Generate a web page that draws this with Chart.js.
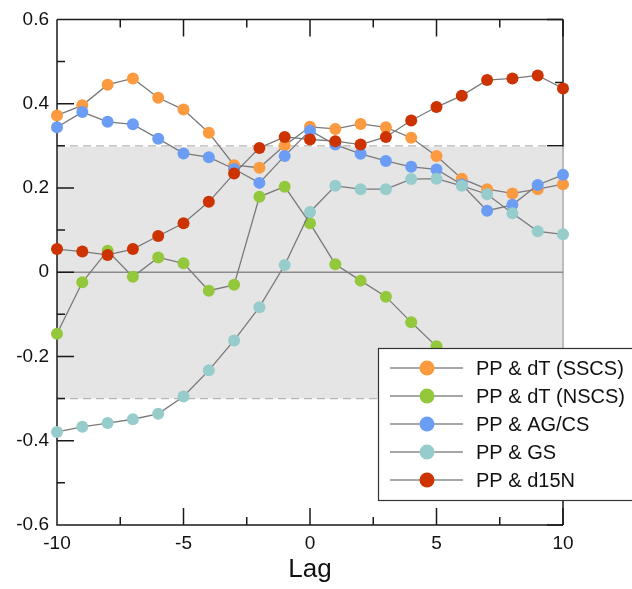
<!DOCTYPE html>
<html>
<head>
<meta charset="utf-8">
<script src="https://cdn.jsdelivr.net/npm/chart.js@4/dist/chart.umd.min.js"></script>
<style>
  html, body { margin: 0; padding: 0; background: #fff; }
  #wrap { width: 632px; height: 589px; position: relative; }
</style>
</head>
<body>
<div id="wrap"><canvas id="lagChart" width="632" height="589"></canvas></div>
<script>
// Lag values (x axis)
const lags = [-10, -9, -8, -7, -6, -5, -4, -3, -2, -1, 0, 1, 2, 3, 4, 5, 6, 7, 8, 9, 10];

// Correlation values
const ppDtSSCS = [0.372, 0.396, 0.445, 0.460, 0.414, 0.386, 0.331, 0.254, 0.248, 0.301, 0.345,
                  0.340, 0.352, 0.344, 0.319, 0.276, 0.222, 0.197, 0.187, 0.197, 0.209];
const ppDtNSCS = [-0.146, -0.024, 0.051, -0.011, 0.035, 0.021, -0.044, -0.030, 0.179, 0.203, 0.116,
                  0.019, -0.020, -0.058, -0.119, -0.176, null, null, null, null, null]; // hidden by legend
const ppAgCs   = [0.344, 0.380, 0.357, 0.351, 0.317, 0.282, 0.273, 0.245, 0.212, 0.276, 0.336,
                  0.303, 0.281, 0.264, 0.250, 0.244, 0.208, 0.146, 0.160, 0.207, 0.231];
const ppGs     = [-0.379, -0.367, -0.358, -0.349, -0.336, -0.295, -0.233, -0.162, -0.083, 0.017, 0.143,
                  0.205, 0.197, 0.197, 0.221, 0.222, 0.205, 0.185, 0.140, 0.097, 0.090];
const ppD15N   = [0.055, 0.049, 0.041, 0.055, 0.086, 0.116, 0.167, 0.234, 0.295, 0.321, 0.315,
                  0.311, 0.303, 0.321, 0.360, 0.392, 0.419, 0.456, 0.460, 0.467, 0.436];

const seriesNames = ['PP & dT (SSCS)', 'PP & dT (NSCS)', 'PP & AG/CS', 'PP & GS', 'PP & d15N'];
const seriesColors = ['#fb9a3f', '#93c83c', '#6b9df5', '#96cccc', '#cc3300'];
const seriesValues = [ppDtSSCS, ppDtNSCS, ppAgCs, ppGs, ppD15N];

// Tick positions
const xLabelTicks = [-10, -5, 0, 5, 10];
const xMinorTicks = [-7.5, -2.5, 2.5, 7.5];
const yLabelTicks = [-0.6, -0.4, -0.2, 0, 0.2, 0.4, 0.6];
const yMinorTicks = [-0.5, -0.3, -0.1, 0.1, 0.3, 0.5];
const rightMajorTicks = [0.6, 0.3, 0, -0.3, -0.6];
const rightMinorTicks = [0.45, 0.15, -0.15, -0.45];
const bandLimit = 0.3; // significance band

const FONT = '"Liberation Sans", Arial, sans-serif';

// Band, zero line, axes and inward ticks
const framePlugin = {
  id: 'frame',
  beforeDatasetsDraw(chart) {
    const { ctx, chartArea: { left, right, top, bottom }, scales: { x, y } } = chart;
    const MAJ = 17, MIN = 8;
    ctx.save();
    ctx.strokeStyle = '#1a1a1a';
    ctx.lineWidth = 1.5;

    // right axis and its ticks (band covers part of it)
    ctx.beginPath();
    ctx.moveTo(right, top); ctx.lineTo(right, bottom);
    rightMajorTicks.forEach(v => { const p = y.getPixelForValue(v); ctx.moveTo(right, p); ctx.lineTo(right - 16, p); });
    rightMinorTicks.forEach(v => { const p = y.getPixelForValue(v); ctx.moveTo(right, p); ctx.lineTo(right - MIN, p); });
    ctx.stroke();

    // grey band
    const yTop = y.getPixelForValue(bandLimit);
    const yBot = y.getPixelForValue(-bandLimit);
    ctx.fillStyle = '#e5e5e5';
    ctx.fillRect(left, yTop + 1, right - left + 1, yBot - yTop - 1);
    ctx.strokeStyle = '#a0a0a0';
    ctx.lineWidth = 1.2;
    ctx.beginPath();
    ctx.moveTo(right, yTop + 1); ctx.lineTo(right, yBot);
    ctx.stroke();

    // dashed band limits
    ctx.strokeStyle = '#b4b4b4';
    ctx.lineWidth = 1.3;
    ctx.setLineDash([8, 5]);
    ctx.beginPath();
    ctx.moveTo(left, yTop); ctx.lineTo(right - 16, yTop);
    ctx.moveTo(left, yBot); ctx.lineTo(right, yBot);
    ctx.stroke();
    ctx.setLineDash([]);

    // zero line
    const y0 = y.getPixelForValue(0);
    ctx.strokeStyle = '#8c8c8c';
    ctx.lineWidth = 1.5;
    ctx.beginPath();
    ctx.moveTo(left, y0); ctx.lineTo(right, y0);
    ctx.stroke();

    // left, top, bottom axes
    ctx.strokeStyle = '#1a1a1a';
    ctx.lineWidth = 1.5;
    ctx.beginPath();
    ctx.moveTo(left, top); ctx.lineTo(left, bottom); ctx.lineTo(right, bottom);
    ctx.moveTo(left, top); ctx.lineTo(right, top);
    yLabelTicks.forEach(v => { const p = y.getPixelForValue(v); ctx.moveTo(left, p); ctx.lineTo(left + MAJ, p); });
    yMinorTicks.forEach(v => { const p = y.getPixelForValue(v); ctx.moveTo(left, p); ctx.lineTo(left + MIN, p); });
    xLabelTicks.forEach(v => {
      const p = x.getPixelForValue(v);
      ctx.moveTo(p, bottom); ctx.lineTo(p, bottom - MAJ);
      ctx.moveTo(p, top); ctx.lineTo(p, top + MAJ);
    });
    xMinorTicks.forEach(v => {
      const p = x.getPixelForValue(v);
      ctx.moveTo(p, bottom); ctx.lineTo(p, bottom - MIN);
      ctx.moveTo(p, top); ctx.lineTo(p, top + MIN);
    });
    ctx.stroke();
    ctx.restore();
  }
};

// Boxed legend in the lower right (its right edge runs off the canvas)
const legendPlugin = {
  id: 'boxLegend',
  afterDatasetsDraw(chart) {
    const ctx = chart.ctx;
    const bx = 378.5, by = 348.5, bw = 258, bh = 152;
    ctx.save();
    ctx.fillStyle = '#fff';
    ctx.fillRect(bx, by, bw, bh);
    ctx.strokeStyle = '#333';
    ctx.lineWidth = 1.2;
    ctx.strokeRect(bx, by, bw, bh);
    seriesNames.forEach((name, i) => {
      const ry = 368 + i * 28;
      ctx.strokeStyle = '#8a8a8a';
      ctx.lineWidth = 1.5;
      ctx.beginPath();
      ctx.moveTo(390, ry); ctx.lineTo(463, ry);
      ctx.stroke();
      ctx.fillStyle = seriesColors[i];
      ctx.beginPath();
      ctx.arc(427, ry, 7.5, 0, Math.PI * 2);
      ctx.fill();
      ctx.fillStyle = '#111';
      ctx.font = '20px ' + FONT;
      ctx.textBaseline = 'middle';
      ctx.textAlign = 'left';
      ctx.fillText(name, 476, ry + 1);
    });
    ctx.restore();
  }
};

const datasets = seriesNames.map((name, i) => ({
  label: name,
  data: lags.map((lag, j) => ({ x: lag, y: seriesValues[i][j] })),
  borderColor: '#7a7a7a',
  borderWidth: 1.3,
  pointRadius: 6,
  pointBorderWidth: 0,
  pointBackgroundColor: seriesColors[i],
  pointHoverRadius: 6,
  tension: 0,
  spanGaps: false,
  clip: false,
  order: seriesNames.length - i // last series drawn on top
}));

const ctx = document.getElementById('lagChart').getContext('2d');
new Chart(ctx, {
  type: 'line',
  data: { datasets: datasets },
  options: {
    responsive: false,
    animation: false,
    layout: { padding: { top: 18, right: 69, left: 0, bottom: 0 } },
    plugins: { legend: { display: false }, tooltip: { enabled: false } },
    scales: {
      x: {
        type: 'linear',
        min: -10,
        max: 10,
        afterFit: (s) => { s.height = 64; },
        afterBuildTicks: (s) => { s.ticks = xLabelTicks.map(v => ({ value: v })); },
        grid: { display: false, drawTicks: false },
        border: { display: false },
        ticks: {
          padding: 7,
          maxRotation: 0,
          color: '#111',
          font: { family: FONT, size: 19 },
          callback: (v) => String(v)
        },
        title: {
          display: true,
          text: 'Lag',
          color: '#111',
          font: { family: FONT, size: 26 },
          padding: { top: 0, bottom: 4 }
        }
      },
      y: {
        min: -0.6,
        max: 0.6,
        afterFit: (s) => { s.width = 57; },
        afterBuildTicks: (s) => { s.ticks = yLabelTicks.map(v => ({ value: v })); },
        grid: { display: false, drawTicks: false },
        border: { display: false },
        ticks: {
          padding: 8,
          color: '#111',
          font: { family: FONT, size: 19 },
          callback: (v) => String(v)
        }
      }
    }
  },
  plugins: [framePlugin, legendPlugin]
});
</script>
</body>
</html>
